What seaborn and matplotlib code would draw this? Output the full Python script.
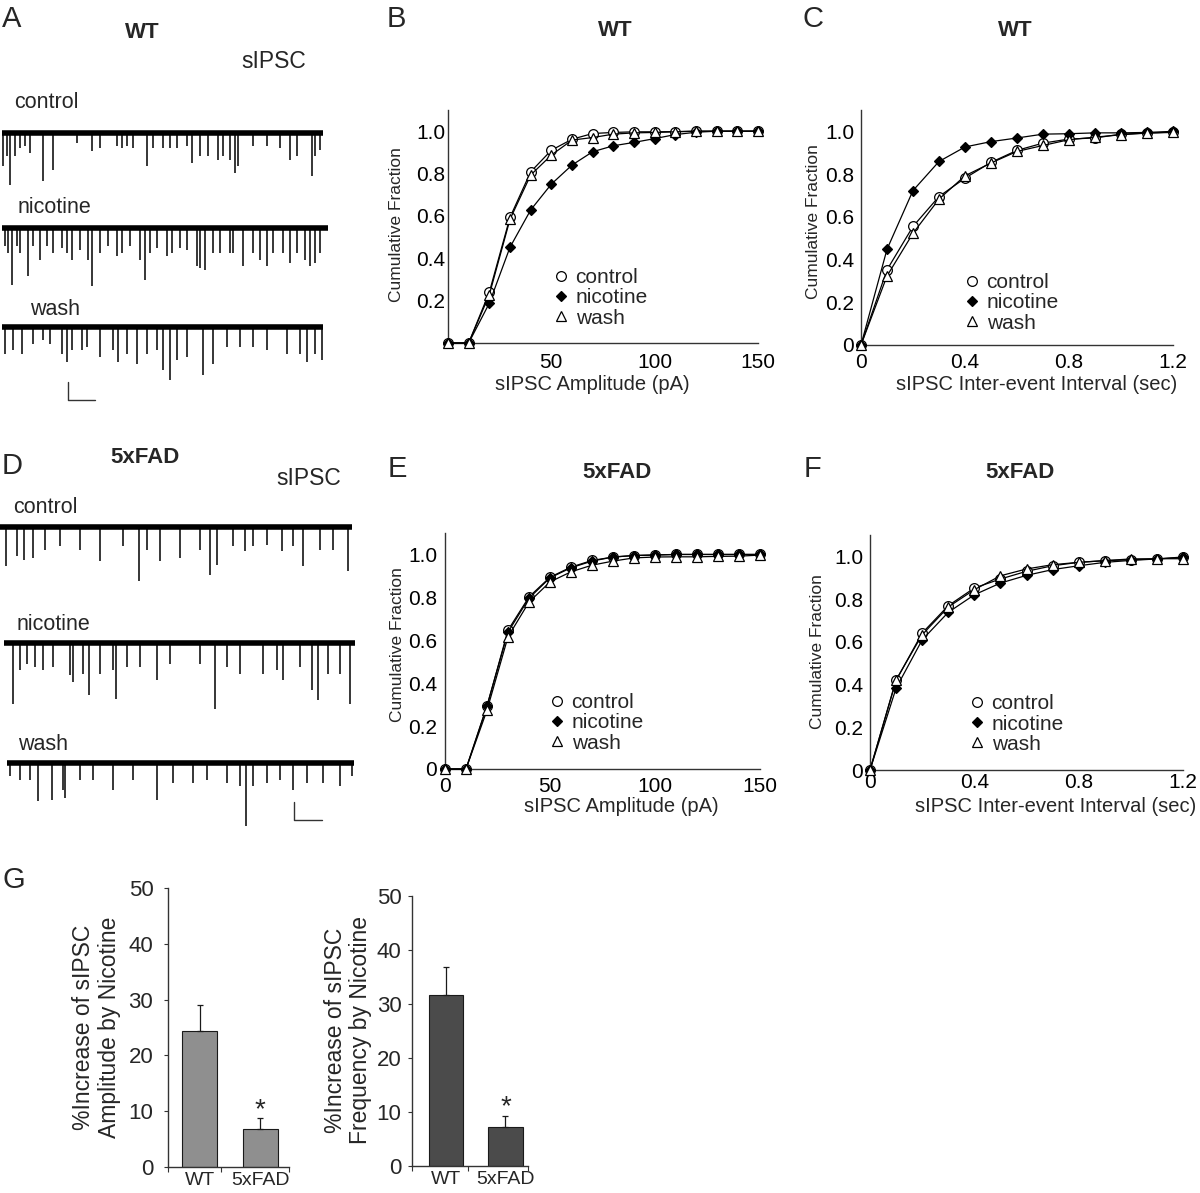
import matplotlib
matplotlib.use("Agg")
import matplotlib.pyplot as plt
from matplotlib.lines import Line2D
import seaborn as sns

# ---------------- data ----------------
conditions = ["control", "nicotine", "wash"]

amp_x = [0, 10, 20, 30, 40, 50, 60, 70, 80, 90, 100, 110, 120, 130, 140, 150]
wt_amp_control = [0, 0, 0.24, 0.593, 0.808, 0.91, 0.962, 0.989, 0.994, 0.997, 0.997, 0.998, 1.0, 1.0, 1.0, 1.0]
wt_amp_nicotine = [0, 0, 0.188, 0.452, 0.628, 0.75, 0.84, 0.903, 0.931, 0.947, 0.965, 0.984, 0.995, 1.0, 1.0, 1.0]
wt_amp_wash = [0, 0, 0.228, 0.584, 0.793, 0.887, 0.958, 0.97, 0.986, 0.992, 0.994, 0.997, 1.0, 1.0, 1.0, 1.0]

int_x = [0, 0.1, 0.2, 0.3, 0.4, 0.5, 0.6, 0.7, 0.8, 0.9, 1.0, 1.1, 1.2]
wt_int_control = [0, 0.352, 0.555, 0.695, 0.781, 0.855, 0.911, 0.945, 0.964, 0.969, 0.987, 0.992, 0.995]
wt_int_nicotine = [0, 0.448, 0.723, 0.859, 0.927, 0.952, 0.969, 0.987, 0.989, 0.993, 0.993, 0.995, 1.0]
wt_int_wash = [0, 0.323, 0.523, 0.683, 0.792, 0.852, 0.906, 0.934, 0.961, 0.973, 0.984, 0.992, 0.997]

fad_amp_control = [0, 0, 0.292, 0.647, 0.802, 0.894, 0.941, 0.972, 0.988, 0.995, 0.997, 1.0, 1.0, 1.0, 1.0, 1.0]
fad_amp_nicotine = [0, 0, 0.295, 0.638, 0.796, 0.891, 0.938, 0.969, 0.988, 0.995, 0.998, 1.0, 1.0, 1.0, 1.0, 1.0]
fad_amp_wash = [0, 0, 0.274, 0.616, 0.778, 0.872, 0.919, 0.95, 0.969, 0.984, 0.988, 0.989, 0.989, 0.991, 0.992, 0.997]

fad_int_control = [0, 0.419, 0.641, 0.769, 0.852, 0.894, 0.93, 0.956, 0.972, 0.98, 0.984, 0.988, 0.997]
fad_int_nicotine = [0, 0.383, 0.609, 0.738, 0.82, 0.875, 0.911, 0.938, 0.956, 0.972, 0.981, 0.988, 0.995]
fad_int_wash = [0, 0.422, 0.633, 0.763, 0.844, 0.909, 0.941, 0.961, 0.972, 0.98, 0.988, 0.989, 0.989]

groups = ["WT", "5xFAD"]
amp_increase = [24.3, 6.8]
amp_sem = [4.8, 1.9]
freq_increase = [31.6, 7.2]
freq_sem = [5.2, 2.0]

# example sIPSC traces: event time (a.u.) and event amplitude (a.u.)
wt_ctrl_t = [3, 7, 10, 15, 20, 25, 30, 43, 53, 77, 92, 100, 117, 122, 127, 133, 147, 153, 163, 170, 177, 187,
             192, 200, 208, 218, 223, 230, 235, 238, 253, 267, 280, 290, 297, 312, 315, 320]
wt_ctrl_a = [33, 23, 52, 23, 15, 13, 20, 48, 37, 10, 18, 15, 13, 15, 13, 15, 33, 15, 15, 15, 15, 13,
             30, 23, 23, 27, 23, 27, 40, 33, 13, 13, 15, 27, 23, 43, 23, 17]
wt_nic_t = [5, 8, 12, 17, 20, 28, 33, 40, 47, 53, 62, 67, 72, 80, 88, 92, 100, 108, 117, 122, 130, 140, 145,
            150, 157, 167, 172, 180, 187, 197, 200, 205, 213, 220, 230, 233, 243, 253, 260, 267, 273, 283,
            290, 297, 305, 310, 315, 320]
wt_nic_a = [18, 25, 57, 18, 25, 48, 18, 32, 18, 25, 20, 25, 32, 22, 32, 58, 25, 18, 28, 25, 18, 32, 52,
            25, 20, 28, 25, 20, 22, 38, 40, 42, 25, 25, 25, 25, 38, 25, 32, 38, 25, 25,
            35, 25, 32, 38, 35, 25]
wt_wash_t = [5, 13, 22, 33, 43, 50, 62, 67, 72, 82, 87, 100, 113, 118, 127, 137, 147, 157, 163, 170, 177,
             187, 203, 213, 227, 240, 253, 267, 287, 300, 307, 315, 322]
wt_wash_a = [27, 23, 27, 17, 13, 17, 27, 35, 23, 23, 20, 30, 23, 35, 27, 37, 27, 23, 43, 53, 33,
             30, 48, 37, 20, 20, 20, 23, 27, 27, 35, 27, 33]

fad_ctrl_t = [6, 17, 24, 33, 45, 60, 80, 100, 123, 139, 147, 160, 180, 200, 210, 217, 233, 245, 253, 267,
              282, 293, 303, 320, 333, 348]
fad_ctrl_a = [39, 29, 33, 31, 23, 19, 23, 34, 19, 54, 23, 34, 31, 23, 48, 38, 19, 24, 19, 18,
              24, 19, 39, 23, 23, 44]
fad_nic_t = [13, 20, 27, 35, 43, 53, 70, 73, 83, 89, 100, 113, 116, 127, 140, 157, 170, 200, 215, 227,
             240, 263, 277, 283, 300, 312, 318, 328, 340, 350]
fad_nic_a = [61, 27, 21, 24, 27, 24, 32, 39, 31, 52, 31, 27, 56, 24, 24, 37, 21, 21, 66, 24,
             31, 31, 27, 37, 24, 47, 57, 31, 31, 61]
fad_wash_t = [10, 20, 30, 38, 52, 63, 65, 80, 93, 113, 133, 157, 173, 193, 207, 227, 240, 246, 253, 267,
              280, 293, 307, 323, 340, 352]
fad_wash_a = [13, 17, 17, 38, 37, 27, 35, 17, 17, 27, 17, 37, 20, 20, 17, 20, 23, 63, 23, 20,
              17, 27, 20, 20, 23, 13]

# ---------------- style ----------------
sns.set_style("white")
plt.rcParams["font.family"] = ["Liberation Sans", "DejaVu Sans"]

W, H = 1200, 1193
fig = plt.figure(figsize=(W / 100, H / 100), dpi=100)


def add_ax(x0, y0, x1, y1):
    return fig.add_axes([x0 / W, 1 - y1 / H, (x1 - x0) / W, (y1 - y0) / H])


def txt(x, y, s, **kw):
    fig.text(x / W, 1 - y / H, s, **kw)


SPINE = "#333333"
styles = [
    dict(marker="o", ms=7, mfc="white"),
    dict(marker="D", ms=5.6, mfc="black"),
    dict(marker="^", ms=7, mfc="white"),
]
LEG_FS = 15


def cum_panel(rect, xs, series, xlim, xticks, xtl, yticks, ytl, ypad, xpad, leg):
    ax = add_ax(*rect)
    for ys, st in zip(series, styles):
        sns.lineplot(x=xs, y=ys, ax=ax, color="black", lw=0.9, marker=st["marker"],
                     markersize=st["ms"], markerfacecolor=st["mfc"], markeredgecolor="black",
                     markeredgewidth=0.9, clip_on=False, zorder=3)
    ax.set_xlim(*xlim)
    ax.set_ylim(0, 1.1)
    ax.set_xticks(xticks)
    ax.set_xticklabels(xtl)
    ax.set_yticks(yticks)
    ax.set_yticklabels(ytl)
    ax.set_xlabel("")
    ax.set_ylabel("")
    for s in ["top", "right"]:
        ax.spines[s].set_visible(False)
    for s in ["left", "bottom"]:
        ax.spines[s].set_color(SPINE)
        ax.spines[s].set_linewidth(1.0)
    ax.tick_params(length=0, labelsize=15, colors="black")
    ax.tick_params(axis="y", pad=ypad)
    ax.tick_params(axis="x", pad=xpad)
    handles = [Line2D([], [], ls="none", marker=st["marker"], ms=st["ms"], mfc=st["mfc"],
                      mec="black", mew=0.9) for st in styles]
    mx, cy = leg
    fs_px = LEG_FS * 100 / 72
    hx = mx - 0.3 * fs_px
    ax.legend(handles, conditions, loc="center left",
              bbox_to_anchor=(hx / W, 1 - cy / H), bbox_transform=fig.transFigure,
              frameon=False, fontsize=LEG_FS, handlelength=0.6, handletextpad=0.4,
              labelspacing=0.05, borderpad=0, borderaxespad=0)
    return ax


ticks_y = [0.2, 0.4, 0.6, 0.8, 1.0]
ticks_y0 = [0, 0.2, 0.4, 0.6, 0.8, 1.0]
ytl_no0 = ["0.2", "0.4", "0.6", "0.8", "1.0"]
ytl_0 = ["0", "0.2", "0.4", "0.6", "0.8", "1.0"]

# B
cum_panel((448, 110, 758, 343), amp_x, [wt_amp_control, wt_amp_nicotine, wt_amp_wash],
          (0, 150), [50, 100, 150], ["50", "100", "150"], ticks_y, ytl_no0, 2, 7, (561, 298))
# C
cum_panel((861, 110, 1173, 345), int_x, [wt_int_control, wt_int_nicotine, wt_int_wash],
          (0, 1.2), [0, 0.4, 0.8, 1.2], ["0", "0.4", "0.8", "1.2"], ticks_y0, ytl_0, 5, 5.5, (972, 303))
# E
cum_panel((445, 533, 760, 769), amp_x, [fad_amp_control, fad_amp_nicotine, fad_amp_wash],
          (0, 150), [0, 50, 100, 150], ["0", "50", "100", "150"], ticks_y0, ytl_0, 5.5, 5.5, (557, 723))
# F
cum_panel((870, 535, 1183, 770), int_x, [fad_int_control, fad_int_nicotine, fad_int_wash],
          (0, 1.2), [0, 0.4, 0.8, 1.2], ["0", "0.4", "0.8", "1.2"], ticks_y0, ytl_0, 5, 2.5, (977, 724))

# axis labels for cumulative panels
for (x, y) in [(396.5, 225), (813, 222), (398, 645), (818, 652)]:
    txt(x, y, "Cumulative Fraction", rotation=90, ha="center", va="center", fontsize=12.5)
txt(592, 390, "sIPSC Amplitude (pA)", ha="center", va="baseline", fontsize=14.5)
txt(1037, 390, "sIPSC Inter-event Interval (sec)", ha="center", va="baseline", fontsize=14.5)
txt(621, 812, "sIPSC Amplitude (pA)", ha="center", va="baseline", fontsize=14.5)
txt(1056, 812, "sIPSC Inter-event Interval (sec)", ha="center", va="baseline", fontsize=14.5)

# titles
txt(615, 36, "WT", ha="center", va="baseline", fontsize=16, fontweight="bold")
txt(1015, 36, "WT", ha="center", va="baseline", fontsize=16, fontweight="bold")
txt(617, 478, "5xFAD", ha="center", va="baseline", fontsize=16, fontweight="bold")
txt(1020, 478, "5xFAD", ha="center", va="baseline", fontsize=16, fontweight="bold")

# panel letters
for (x, y, s) in [(2, 27, "A"), (387, 27, "B"), (803, 27, "C"), (2, 474, "D"),
                  (388, 477, "E"), (804, 477, "F"), (2, 888, "G")]:
    txt(x, y, s, ha="left", va="baseline", fontsize=21)


# ---------------- traces ----------------
def draw_trace(ax, t, a, base, start, end):
    ax.plot([start, end], [base, base], color="black", lw=4.0, solid_capstyle="butt")
    ax.vlines(t, base, [base + v for v in a], color="black", lw=1.1)


axA = add_ax(0, 0, 360, 420)
axA.set_xlim(0, 360)
axA.set_ylim(420, 0)
axA.axis("off")
draw_trace(axA, wt_ctrl_t, wt_ctrl_a, 133, 2, 323)
draw_trace(axA, wt_nic_t, wt_nic_a, 228, 2, 328)
draw_trace(axA, wt_wash_t, wt_wash_a, 327, 2, 323)
axA.plot([68, 68, 95], [382, 400, 400], color="#333333", lw=1.0)

axD = add_ax(0, 440, 360, 840)
axD.set_xlim(0, 360)
axD.set_ylim(840, 440)
axD.axis("off")
draw_trace(axD, fad_ctrl_t, fad_ctrl_a, 527, 0, 352)
draw_trace(axD, fad_nic_t, fad_nic_a, 643, 4, 355)
draw_trace(axD, fad_wash_t, fad_wash_a, 763, 7, 354)
axD.plot([294, 294, 322], [802, 820, 820], color="#333333", lw=1.0)

txt(142.5, 38, "WT", ha="center", va="baseline", fontsize=16, fontweight="bold")
txt(274, 68, "sIPSC", ha="center", va="baseline", fontsize=16.5)
txt(14, 108, "control", ha="left", va="baseline", fontsize=15.5)
txt(18, 213, "nicotine", ha="left", va="baseline", fontsize=15.5)
txt(30, 315, "wash", ha="left", va="baseline", fontsize=15.5)

txt(145, 463, "5xFAD", ha="center", va="baseline", fontsize=16, fontweight="bold")
txt(309, 485, "sIPSC", ha="center", va="baseline", fontsize=16.5)
txt(13, 513, "control", ha="left", va="baseline", fontsize=15.5)
txt(17, 630, "nicotine", ha="left", va="baseline", fontsize=15.5)
txt(18, 750, "wash", ha="left", va="baseline", fontsize=15.5)


# ---------------- bar panels (G) ----------------
def bar_panel(rect, vals, sems, color, xlim, mid_tick, ypad):
    ax = add_ax(*rect)
    sns.barplot(x=groups, y=vals, ax=ax, color=color, saturation=1, width=0.58,
                edgecolor="#1a1a1a", linewidth=0.8, errorbar=None)
    ax.errorbar([0, 1], vals, yerr=[[0, 0], sems], fmt="none", ecolor="#1a1a1a",
                elinewidth=0.9, capsize=2.2, capthick=0.9, zorder=4)
    ax.set_xlim(*xlim)
    ax.set_ylim(0, 50)
    ax.set_yticks([0, 10, 20, 30, 40, 50])
    ax.set_xlabel("")
    ax.set_ylabel("")
    for s in ["top", "right"]:
        ax.spines[s].set_visible(False)
    for s in ["left", "bottom"]:
        ax.spines[s].set_color(SPINE)
        ax.spines[s].set_linewidth(1.0)
    ax.tick_params(axis="y", left=True, length=3, width=0.8, color=SPINE, pad=ypad, labelsize=16)
    ax.tick_params(axis="x", which="major", bottom=False, length=0, pad=4, labelsize=14)
    ax.set_xticks([xlim[0], mid_tick, xlim[1]], minor=True)
    ax.tick_params(axis="x", which="minor", bottom=True, length=3.5, width=0.8, color=SPINE)
    ax.annotate("*", xy=(1, vals[1] + sems[1]), xytext=(0, 1.0), textcoords="offset points",
                ha="center", va="baseline", fontsize=20)
    return ax


bar_panel((167.9, 888.3, 288.6, 1166.7), amp_increase, amp_sem, "#8f8f8f",
          (-0.531, 1.467), 0.343, 7.5)
bar_panel((411.8, 896, 527.9, 1165.7), freq_increase, freq_sem, "#4b4b4b",
          (-0.573, 1.378), 0.376, 4.5)

txt(96.5, 1027, "%Increase of sIPSC\nAmplitude by Nicotine", rotation=90, ha="center",
    va="center", fontsize=16.5, linespacing=1.12, multialignment="center")
txt(348, 1030, "%Increase of sIPSC\nFrequency by Nicotine", rotation=90, ha="center",
    va="center", fontsize=16.5, linespacing=1.12, multialignment="center")

fig.savefig("out.png", dpi=100)
